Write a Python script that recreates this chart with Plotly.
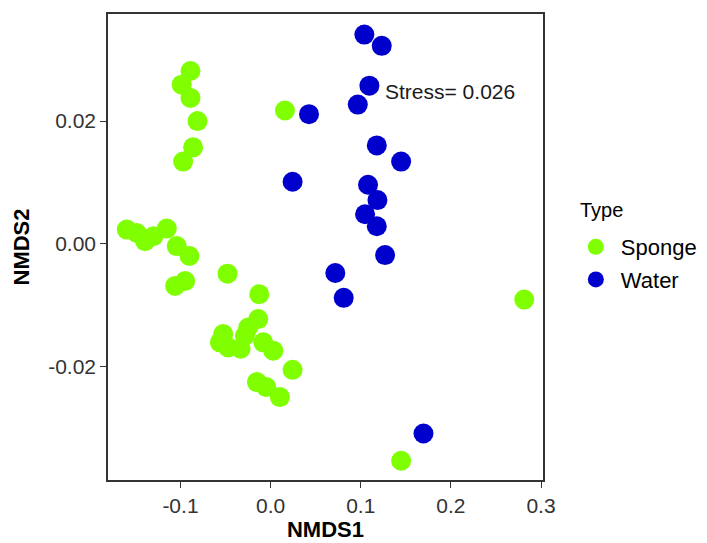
import plotly.graph_objects as go

# Sponge samples (NMDS1, NMDS2)
sponge_x = [-0.0889, -0.0986, -0.0889, -0.0811, -0.0860, -0.0971, 0.0159,
            -0.1596, -0.1485, -0.1393, -0.1300, -0.1152, -0.1041, -0.0900,
            -0.1059, -0.0948, -0.0478,
            -0.0137, -0.0248, -0.0285, -0.0526, -0.0563, -0.0471, -0.0333,
            -0.0082, 0.0029, 0.0244, -0.0152, -0.0048, 0.0103,
            -0.0126, 0.1448, 0.2814]
sponge_y = [0.02817, 0.02594, 0.02379, 0.02001, 0.01573, 0.01341, 0.02173,
            0.00233, 0.00178, 0.00044, 0.00125, 0.00249, -0.00036, -0.00198,
            -0.00685, -0.00605, -0.00486,
            -0.01226, -0.01362, -0.01497, -0.01470, -0.01605, -0.01686, -0.01710,
            -0.01605, -0.01740, -0.02053, -0.02253, -0.02334, -0.02497,
            -0.00821, -0.03535, -0.00908]

# Water samples (NMDS1, NMDS2)
water_x = [0.1040, 0.1233, 0.1096, 0.0967, 0.0426, 0.1178, 0.1448, 0.0244,
           0.1081, 0.1185, 0.1048, 0.1178, 0.1270, 0.0718, 0.0811, 0.1696]
water_y = [0.03411, 0.03227, 0.02578, 0.02270, 0.02114, 0.01605, 0.01341, 0.01012,
           0.00963, 0.00714, 0.00482, 0.00287, -0.00183, -0.00475, -0.00880, -0.0309]

x_ticks = [-0.1, 0.0, 0.1, 0.2, 0.3]
x_tick_labels = ["-0.1", "0.0", "0.1", "0.2", "0.3"]
y_ticks = [-0.02, 0.0, 0.02]
y_tick_labels = ["-0.02", "0.00", "0.02"]

stress_label = "Stress= 0.026"
legend_title = "Type"

FONT = "Liberation Sans, Arial, Helvetica, sans-serif"

fig = go.Figure()
fig.add_trace(go.Scatter(x=sponge_x, y=sponge_y, mode="markers", name="Sponge",
                         legendgroup="s",
                         marker=dict(color="#7FFF00", size=20, line=dict(width=0))))
fig.add_trace(go.Scatter(x=water_x, y=water_y, mode="markers", name="Water",
                         legendgroup="w",
                         marker=dict(color="#0000CD", size=20, line=dict(width=0))))

fig.add_annotation(x=0.125, y=0.0249, text=stress_label, showarrow=False,
                   xanchor="left", yanchor="middle",
                   font=dict(family=FONT, size=21, color="#1a1a1a"))

fig.add_annotation(x=1.0805, y=0.579, xref="paper", yref="paper", text=legend_title,
                   showarrow=False, xanchor="left", yanchor="middle",
                   font=dict(family=FONT, size=20, color="black"))

axis_common = dict(showgrid=False, zeroline=False, showline=True, linecolor="#333333",
                   linewidth=1.5, mirror=True, ticks="outside", ticklen=6,
                   tickcolor="#333333", tickwidth=1.3,
                   tickfont=dict(family=FONT, size=21, color="#333333"))

fig.update_layout(
    width=707, height=543,
    margin=dict(l=100, r=172, t=4, b=71),
    paper_bgcolor="white", plot_bgcolor="white",
    font=dict(family=FONT),
    xaxis=dict(range=[-0.1804, 0.3022], tickvals=x_ticks, ticktext=x_tick_labels,
               title=dict(text="<b>NMDS1</b>", font=dict(family=FONT, size=22, color="black"),
                          standoff=6),
               **axis_common),
    yaxis=dict(range=[-0.03848, 0.03746], tickvals=y_ticks, ticktext=y_tick_labels,
               title=dict(text="<b>NMDS2</b>", font=dict(family=FONT, size=22, color="black"),
                          standoff=12),
               **axis_common),
    legend=dict(font=dict(family=FONT, size=22, color="black"),
                x=1.064, y=0.545, xanchor="left", yanchor="top",
                bgcolor="rgba(0,0,0,0)", tracegroupgap=1, itemsizing="trace",
                itemwidth=40),
)

fig.write_html("out.html")
